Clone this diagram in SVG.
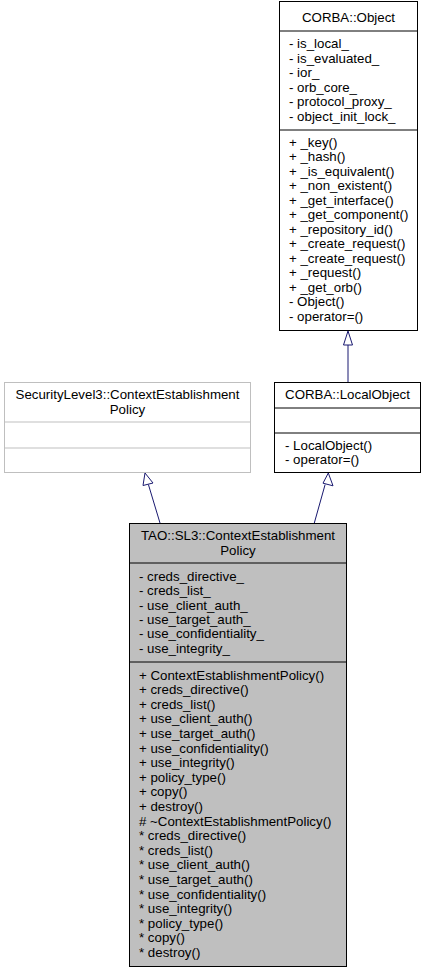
<svg xmlns="http://www.w3.org/2000/svg" width="427" height="973" viewBox="0 0 427 973">
<style>
text{font-family:"Liberation Sans",Arial,Helvetica,sans-serif;font-size:13.3px;fill:#000}
.c{text-anchor:middle}
.box{fill:#fff;stroke:#000;stroke-width:1}
.gbox{fill:#fff;stroke:#bfbfbf;stroke-width:1}
.tbox{fill:#bfbfbf;stroke:#000;stroke-width:1}
.sep{stroke:#000;stroke-width:1}
.gsep{stroke:#bfbfbf;stroke-width:1}
.edge{stroke:#191970;stroke-width:1;fill:none}
.head{fill:#fff;stroke:#191970;stroke-width:1}
</style>
<rect width="427" height="973" fill="#fff"/>
<g id="connectors">
<line class="edge" x1="348" y1="345" x2="348" y2="382"/>
<polygon class="head" points="348,331 343.5,345 352.5,345"/>
<line class="edge" x1="148.4" y1="484.5" x2="160" y2="523"/>
<polygon class="head" points="145,473 143,485.5 153,483"/>
<line class="edge" x1="325.1" y1="484.6" x2="314.3" y2="523"/>
<polygon class="head" points="328.3,473 323,483.2 333,485.8"/>
</g>
<g id="corba_object">
<rect class="box" x="279.5" y="1.5" width="138" height="329"/>
<line class="sep" x1="279.5" y1="31" x2="417.5" y2="31"/>
<line class="sep" x1="279.5" y1="130" x2="417.5" y2="130"/>
<text class="c" x="348.5" y="22">CORBA::Object</text>
<text x="289" y="48">- is_local_</text>
<text x="289" y="62.6">- is_evaluated_</text>
<text x="289" y="77.2">- ior_</text>
<text x="289" y="91.8">- orb_core_</text>
<text x="289" y="106.4">- protocol_proxy_</text>
<text x="289" y="121">- object_init_lock_</text>
<text x="289" y="146.5">+ _key()</text>
<text x="289" y="161">+ _hash()</text>
<text x="289" y="175.5">+ _is_equivalent()</text>
<text x="289" y="190">+ _non_existent()</text>
<text x="289" y="204.5">+ _get_interface()</text>
<text x="289" y="219">+ _get_component()</text>
<text x="289" y="233.5">+ _repository_id()</text>
<text x="289" y="248">+ _create_request()</text>
<text x="289" y="262.5">+ _create_request()</text>
<text x="289" y="277">+ _request()</text>
<text x="289" y="291.5">+ _get_orb()</text>
<text x="289" y="306">- Object()</text>
<text x="289" y="320.5">- operator=()</text>
</g>
<g id="corba_localobject">
<rect class="box" x="274.5" y="382.5" width="146" height="90"/>
<line class="sep" x1="274.5" y1="408" x2="420.5" y2="408"/>
<line class="sep" x1="274.5" y1="433" x2="420.5" y2="433"/>
<text class="c" x="347.5" y="399">CORBA::LocalObject</text>
<text x="285" y="449.5">- LocalObject()</text>
<text x="285" y="464">- operator=()</text>
</g>
<g id="securitylevel3_policy">
<rect class="gbox" x="4.5" y="382.5" width="246" height="90"/>
<line class="gsep" x1="4.5" y1="422" x2="250.5" y2="422"/>
<line class="gsep" x1="4.5" y1="448" x2="250.5" y2="448"/>
<text class="c" x="127.5" y="398.5">SecurityLevel3::ContextEstablishment</text>
<text class="c" x="127.5" y="413.5">Policy</text>
</g>
<g id="tao_sl3_policy">
<rect class="tbox" x="129.5" y="523.5" width="217" height="443"/>
<line class="sep" x1="129.5" y1="563" x2="346.5" y2="563"/>
<line class="sep" x1="129.5" y1="662" x2="346.5" y2="662"/>
<text class="c" x="238" y="540">TAO::SL3::ContextEstablishment</text>
<text class="c" x="238" y="554.5">Policy</text>
<text x="139" y="581">- creds_directive_</text>
<text x="139" y="595.3">- creds_list_</text>
<text x="139" y="609.6">- use_client_auth_</text>
<text x="139" y="623.9">- use_target_auth_</text>
<text x="139" y="638.2">- use_confidentiality_</text>
<text x="139" y="652.5">- use_integrity_</text>
<text x="139" y="679.5">+ ContextEstablishmentPolicy()</text>
<text x="139" y="694.1">+ creds_directive()</text>
<text x="139" y="708.7">+ creds_list()</text>
<text x="139" y="723.3">+ use_client_auth()</text>
<text x="139" y="737.9">+ use_target_auth()</text>
<text x="139" y="752.5">+ use_confidentiality()</text>
<text x="139" y="767.1">+ use_integrity()</text>
<text x="139" y="781.7">+ policy_type()</text>
<text x="139" y="796.3">+ copy()</text>
<text x="139" y="810.9">+ destroy()</text>
<text x="139" y="825.5"># ~ContextEstablishmentPolicy()</text>
<text x="139" y="840.1">* creds_directive()</text>
<text x="139" y="854.7">* creds_list()</text>
<text x="139" y="869.3">* use_client_auth()</text>
<text x="139" y="883.9">* use_target_auth()</text>
<text x="139" y="898.5">* use_confidentiality()</text>
<text x="139" y="913.1">* use_integrity()</text>
<text x="139" y="927.7">* policy_type()</text>
<text x="139" y="942.3">* copy()</text>
<text x="139" y="956.9">* destroy()</text>
</g>
</svg>
